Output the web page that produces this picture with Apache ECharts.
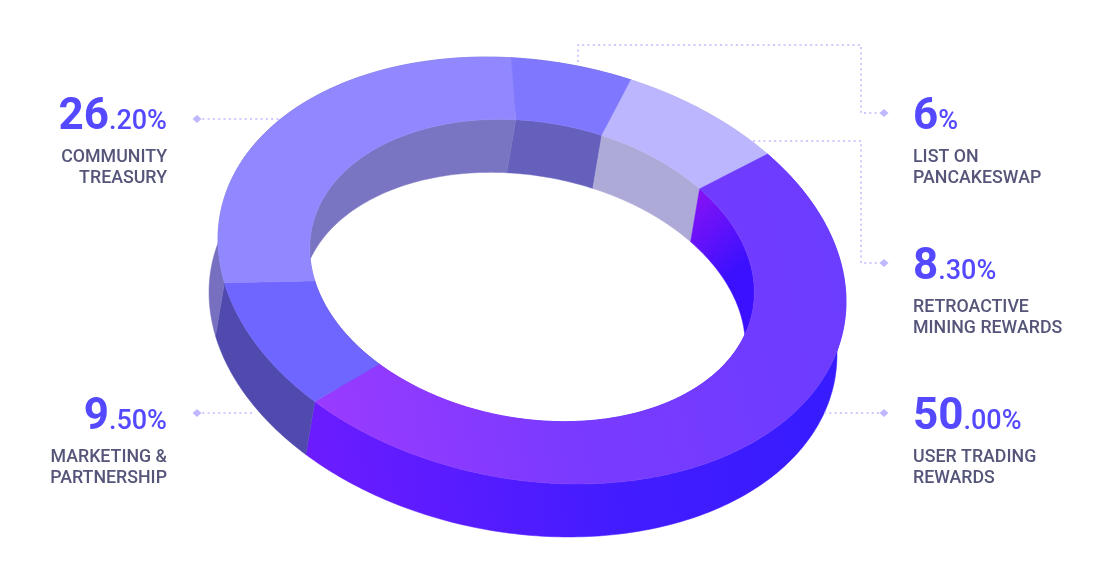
<!DOCTYPE html>
<html><head><meta charset="utf-8">
<style>html,body{margin:0;padding:0;background:#fff}#c{width:1097px;height:581px}</style>
<script src="https://cdn.jsdelivr.net/npm/echarts@6/dist/echarts.min.js"></script>
</head><body><div id="c"></div>
<script>
const categories = ['List on PancakeSwap','Retroactive Mining Rewards','User Trading Rewards','Marketing & Partnership','Community Treasury'];
const shares = [6, 8.3, 50, 9.5, 26.2];
const bigLabels = ['6','8','50','9','26'];
const smallLabels = ['%','.30%','.00%','.50%','.20%'];
const nameLines = [['LIST ON','PANCAKESWAP'],['RETROACTIVE','MINING REWARDS'],['USER TRADING','REWARDS'],['MARKETING &','PARTNERSHIP'],['COMMUNITY','TREASURY']];
const topColors = ['#7f78ff','#bbb6fd',null,'#6e66ff','#9188ff'];
const innerColors = ['#6560bc','#aeaad8',null,'#5048b0','#7a75c3'];
const outerColors = ['#6560bc','#aeaad8',null,'#504aaf','#7770c0'];

const G = echarts.graphic.LinearGradient;
const topMain = new G(320,420,840,300,[{offset:0,color:'#9a3aff'},{offset:.45,color:'#7a3aff'},{offset:1,color:'#6c3cff'}],true);
const outerMain = new G(310,460,840,400,[{offset:0,color:'#6c1cff'},{offset:.55,color:'#431cff'},{offset:1,color:'#361cff'}],true);
const innerMain = new G(695,200,750,260,[{offset:0,color:'#8212f5'},{offset:1,color:'#3a10ff'}],true);

// ring projection
const CX=532, CY=270.5, SX=314, SKEW=31.05, SY=211.2, INNER=0.708;
const PIVOT=[0.0287,0.031], PIVOT_IN=[0.0167,0.031], START=-95.3, DX=-9, DY=53;
function pt(deg,rho,ex){
  const p=rho<1?PIVOT_IN:PIVOT;
  const a=deg*Math.PI/180, d=[Math.cos(a),Math.sin(a)];
  const b=p[0]*d[0]+p[1]*d[1];
  const s=-b+Math.sqrt(b*b-p[0]*p[0]-p[1]*p[1]+rho*rho);
  const u=p[0]+s*d[0], v=p[1]+s*d[1];
  return [CX+SX*u+(ex?DX:0), CY+SKEW*u+SY*v+(ex?DY:0)];
}
function arc(a0,a1,rho,ex){
  const n=Math.max(2,Math.ceil(Math.abs(a1-a0))), out=[];
  for(let i=0;i<=n;i++) out.push(pt(a0+(a1-a0)*i/n,rho,ex));
  return out;
}
const total=shares.reduce((a,b)=>a+b,0);
function poly(points,fill,z2){
  return {type:'polygon',z2:z2,shape:{points:points},style:{fill:fill,stroke:fill,lineWidth:0.5}};
}
function renderItem(params,api){
  const i=params.dataIndex; let before=0;
  for(let k=0;k<i;k++) before+=shares[k];
  const a0=START+before/total*360, a1=a0+api.value(0)/total*360;
  const top=arc(a0,a1,1,false).concat(arc(a1,a0,INNER,false));
  const outer=arc(a0,a1,1,false).concat(arc(a1,a0,1,true));
  const inner=arc(a0,a1,INNER,false).concat(arc(a1,a0,INNER,true));
  return {type:'group',children:[
    poly(outer,outerColors[i]||outerMain,1),
    poly(inner,innerColors[i]||innerMain,2),
    poly(top,topColors[i]||topMain,3)
  ]};
}

const NUM='#5549ff', TXT='#55557a', LEAD='#c0b8ff';
// column anchor and number baseline per category
const anchors=[[913,128,'left'],[913,278,'left'],[913,428,'left'],[167,428,'right'],[167,128,'right']];
const leaderPaths=[
 [[578,62],[578,45],[861,45],[861,113],[884,113]],
 [[753,141],[861,141],[861,263],[884,263]],
 [[824,413],[884,413]],
 [[197,413],[255,413]],
 [[197,119],[280,119]]
];
const tips=[[884,113],[884,263],[884,413],[197,413],[197,119]];
const graphics=[];
leaderPaths.forEach(p=>graphics.push({type:'polyline',z:5,shape:{points:p},style:{fill:null,stroke:LEAD,lineWidth:1.5,lineDash:[2,3.3]}}));
tips.forEach(t=>graphics.push({type:'polygon',z:5,shape:{points:[[t[0]-4.5,t[1]],[t[0],t[1]-4],[t[0]+4.5,t[1]],[t[0],t[1]+4]]},style:{fill:LEAD}}));
anchors.forEach((a,i)=>{
  graphics.push({type:'text',z:6,x:a[0],y:a[1]+12,style:{
    text:'{b|'+bigLabels[i]+'}{s|'+smallLabels[i]+'}',align:a[2],verticalAlign:'bottom',
    rich:{b:{fontFamily:'Roboto',fontWeight:700,fontSize:44,fill:NUM,color:NUM,verticalAlign:'bottom',lineHeight:54},
          s:{fontFamily:'Roboto',fontWeight:500,fontSize:27,fill:NUM,color:NUM,verticalAlign:'bottom',lineHeight:33,padding:[0,0,4,0]}}}});
  nameLines[i].forEach((line,j)=>graphics.push({type:'text',z:6,x:a[0],y:a[1]+29.5+j*21,style:{
    text:line,align:a[2],verticalAlign:'middle',fontFamily:'Roboto',fontWeight:500,fontSize:17.8,fill:TXT}}));
});

const chart=echarts.init(document.getElementById('c'),null,{renderer:'canvas'});
chart.setOption({
  animation:false,
  backgroundColor:'#ffffff',
  graphic:{elements:graphics},
  series:[{type:'custom',coordinateSystem:'none',silent:true,renderItem:renderItem,
    data:shares.map((v,i)=>({name:categories[i],value:[v]}))}]
});
</script></body></html>
